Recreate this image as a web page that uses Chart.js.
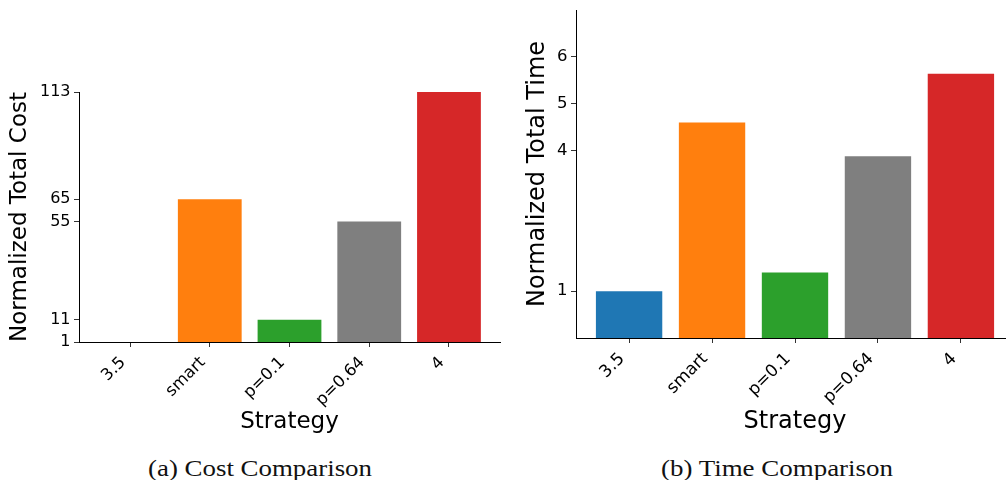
<!DOCTYPE html>
<html>
<head>
<meta charset="utf-8">
<script src="https://cdn.jsdelivr.net/npm/chart.js@4/dist/chart.umd.min.js"></script>
<style>
  html, body { margin: 0; padding: 0; background: #fff; overflow: hidden; width: 1006px; height: 480px; }
  canvas { position: absolute; top: 0; }
  #costCanvas { left: 0; }
  #timeCanvas { left: 503px; }
  .caption {
    position: absolute; top: 452px; white-space: nowrap;
    font-family: "Liberation Serif", serif; font-size: 24px; line-height: 32px; color: #111;
  }
</style>
</head>
<body>
<canvas id="costCanvas" width="503" height="440"></canvas>
<canvas id="timeCanvas" width="511" height="440"></canvas>
<div class="caption" id="capA">(a) Cost Comparison</div>
<div class="caption" id="capB">(b) Time Comparison</div>
<script>
// Strategies compared in both panels
const strategies = ["3.5", "smart", "p=0.1", "p=0.64", "4"];
const barColors = ["#1f77b4", "#ff7f0e", "#2ca02c", "#7f7f7f", "#d62728"];

// Normalized total cost per strategy
const costValues = [1, 65, 11, 55, 113];
const costTicks = [1, 11, 55, 65, 113];

// Normalized total time per strategy
const timeValues = [1.0, 4.6, 1.4, 3.88, 5.64];
const timeTicks = [1, 4, 5, 6];

const FONT = "'DejaVu Sans', sans-serif";

function makeChart(canvasId, values, yTicks, yTitle, cfg) {
  const points = values.map((v, i) => ({ x: i, y: v }));
  return new Chart(document.getElementById(canvasId), {
    type: 'bar',
    data: {
      datasets: [{
        data: points,
        backgroundColor: barColors,
        borderWidth: 0,
        categoryPercentage: 1.0,
        barPercentage: 0.8
      }]
    },
    options: {
      responsive: false,
      animation: false,
      devicePixelRatio: 1,
      layout: { padding: { top: cfg.padTop, right: cfg.padRight, left: 0, bottom: 0 } },
      plugins: { legend: { display: false }, tooltip: { enabled: false } },
      scales: {
        x: {
          type: 'linear',
          offset: false,
          min: -0.64,
          max: 4.64,
          afterBuildTicks: (s) => { s.ticks = strategies.map((_, i) => ({ value: i })); },
          afterFit: (s) => { s.height = cfg.xHeight; s.paddingLeft = 0; s.paddingRight = 0; },
          ticks: {
            autoSkip: false,
            minRotation: 45,
            maxRotation: 45,
            padding: 6,
            labelOffset: -7,
            color: '#000',
            font: { family: FONT, size: cfg.tickSize },
            callback: (v) => strategies[v]
          },
          grid: { display: true, offset: false, drawOnChartArea: false, drawTicks: true, tickLength: 5, tickColor: '#333', tickWidth: 1 },
          border: { display: true, color: '#000', width: 1 },
          title: {
            display: true, text: 'Strategy', color: '#000',
            font: { family: FONT, size: cfg.titleSize },
            padding: { top: 0, bottom: cfg.xTitlePad }
          }
        },
        y: {
          type: 'linear',
          min: cfg.yMin,
          max: cfg.yMax,
          afterBuildTicks: (s) => { s.ticks = yTicks.map(v => ({ value: v })); },
          afterFit: (s) => { s.width = cfg.yWidth; s.paddingTop = 0; s.paddingBottom = 0; },
          ticks: {
            padding: 3.5,
            color: '#000',
            font: { family: FONT, size: cfg.yTickSize },
            callback: (v) => String(v)
          },
          grid: { display: true, drawOnChartArea: false, drawTicks: true, tickLength: 5, tickColor: '#333', tickWidth: 1 },
          border: { display: true, color: '#000', width: 1 },
          title: {
            display: true, text: yTitle, color: '#000',
            font: { family: FONT, size: cfg.titleSize },
            padding: { top: cfg.yTitlePad, bottom: 0 }
          }
        }
      }
    }
  });
}

makeChart('costCanvas', costValues, costTicks, 'Normalized Total Cost', {
  padTop: 92, padRight: 3, xHeight: 98, yWidth: 79, yMin: 1, yMax: 113,
  tickSize: 16.5, yTickSize: 16, titleSize: 23, xTitlePad: 4, yTitlePad: 6
});

makeChart('timeCanvas', timeValues, timeTicks, 'Normalized Total Time', {
  padTop: 10, padRight: 0, xHeight: 102, yWidth: 73, yMin: 0, yMax: 7,
  tickSize: 17, yTickSize: 16.5, titleSize: 24, xTitlePad: 3.6, yTitlePad: 20.6
});

// Captions under each panel, stretched to the subfigure caption widths
function placeCaption(id, centerX, width) {
  const el = document.getElementById(id);
  const w = el.getBoundingClientRect().width;
  el.style.left = centerX + 'px';
  el.style.transform = 'translateX(-50%) scaleX(' + (width / w) + ')';
}
placeCaption('capA', 260, 224);
placeCaption('capB', 777, 232);
</script>
</body>
</html>
